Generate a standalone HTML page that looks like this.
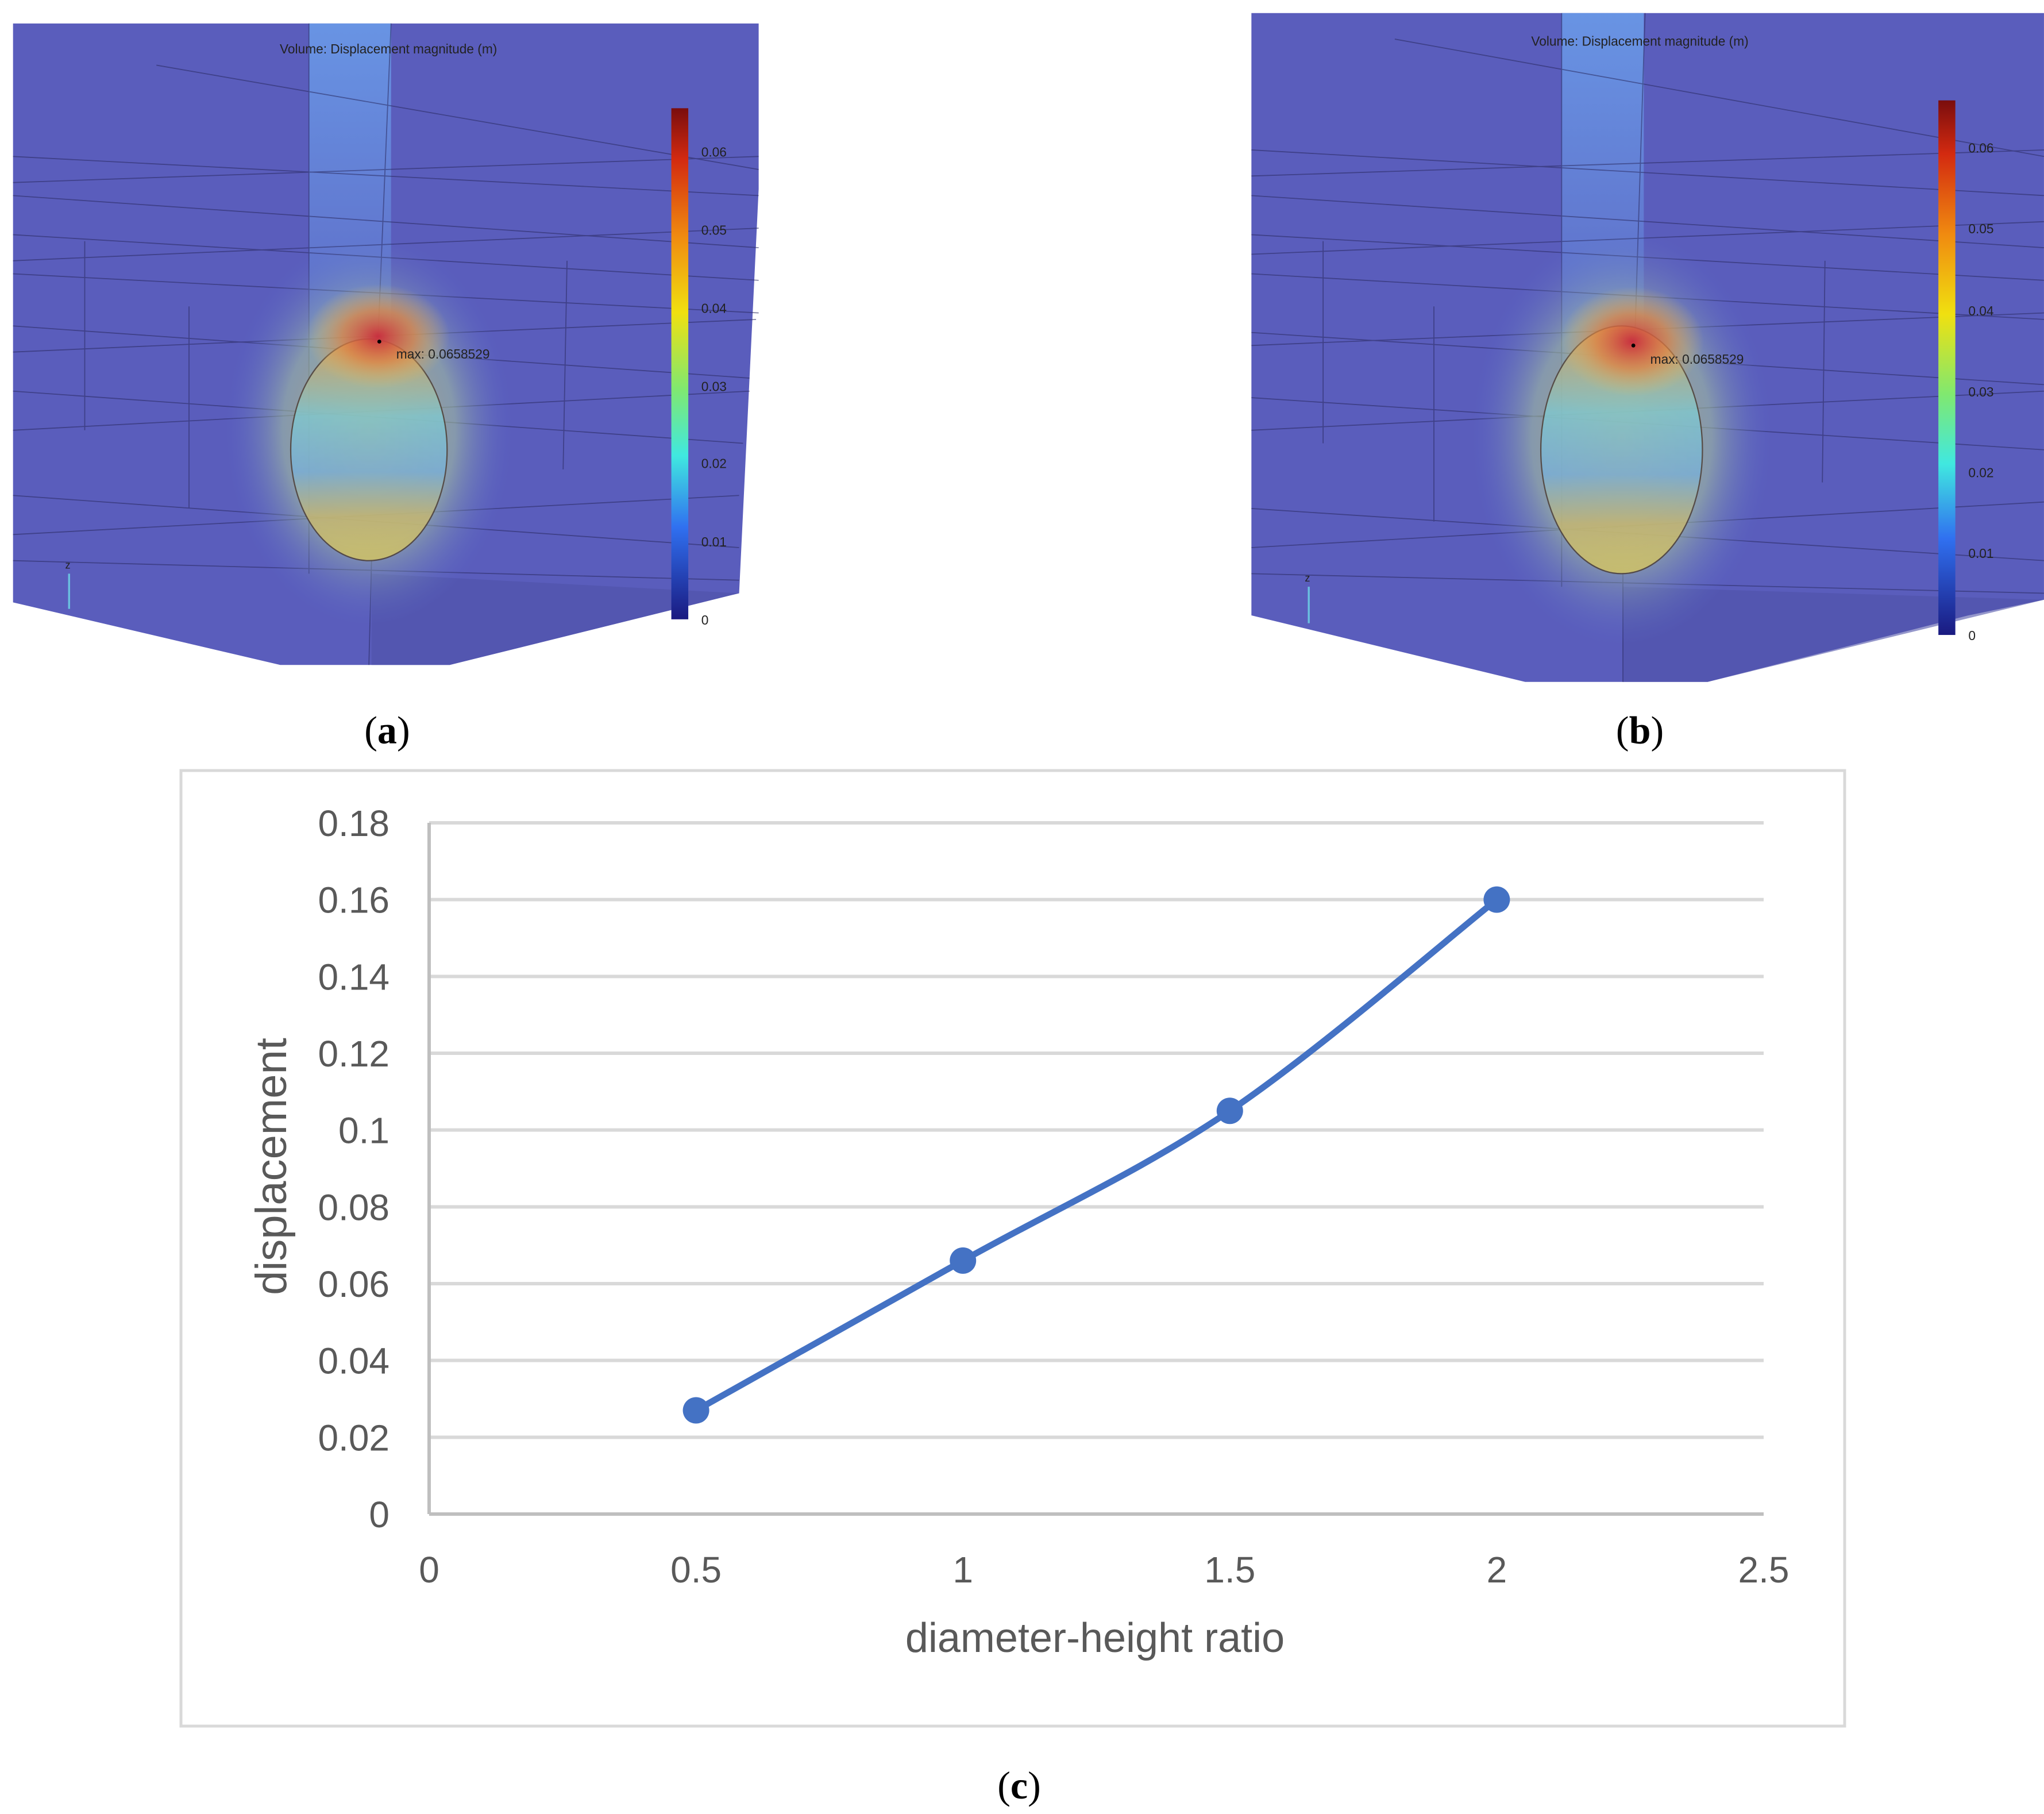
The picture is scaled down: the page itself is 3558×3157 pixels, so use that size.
<!DOCTYPE html>
<html><head><meta charset="utf-8"><style>
html,body{margin:0;padding:0;background:#fff;}
svg{display:block;}
</style></head><body>
<svg id="fig" width="3558" height="3157" viewBox="0 0 3558 3157" xmlns="http://www.w3.org/2000/svg">
<defs>
<linearGradient id="cbar" x1="0" y1="0" x2="0" y2="1">
<stop offset="0" stop-color="#7a0d0d"/><stop offset="0.1" stop-color="#d32a10"/><stop offset="0.25" stop-color="#f08a10"/><stop offset="0.4" stop-color="#f0e010"/><stop offset="0.55" stop-color="#80e870"/><stop offset="0.68" stop-color="#40e8e0"/><stop offset="0.82" stop-color="#3070f0"/><stop offset="1" stop-color="#1a1a80"/>
</linearGradient>
<linearGradient id="col" x1="0" y1="0" x2="0" y2="1">
<stop offset="0" stop-color="#6a9ae8" stop-opacity="0.9"/><stop offset="1" stop-color="#6a9ae8" stop-opacity="0"/>
</linearGradient>
<radialGradient id="glow" cx="0.5" cy="0.5" r="0.5">
<stop offset="0" stop-color="#d8c860"/><stop offset="0.6" stop-color="#a8c8a0" stop-opacity="0.8"/><stop offset="1" stop-color="#5a6fd0" stop-opacity="0"/>
</radialGradient>
<radialGradient id="hot" cx="0.5" cy="0.5" r="0.5">
<stop offset="0" stop-color="#c83040"/><stop offset="0.5" stop-color="#e08040" stop-opacity="0.7"/><stop offset="1" stop-color="#e0c060" stop-opacity="0"/>
</radialGradient>
<linearGradient id="ell" x1="0" y1="0" x2="0" y2="1">
<stop offset="0" stop-color="#e0a050"/><stop offset="0.35" stop-color="#80c8d0"/><stop offset="0.6" stop-color="#7ab0d8"/><stop offset="0.8" stop-color="#c8b870"/><stop offset="1" stop-color="#d8c860"/>
</linearGradient>
</defs>

<g transform="scale(2.2691)">
<!-- panel a -->
<g>
<polygon points="10,18 582,18 582,145 567,455 345,510 215,510 10,462" fill="#5a5dbc"/>
<polygon points="285,440 567,455 345,510 285,510" fill="#4f52a8" opacity="0.6"/>
<rect x="237" y="18" width="63" height="330" fill="url(#col)"/>
<g stroke="#2a2a60" stroke-width="0.8" opacity="0.55" fill="none">
<line x1="10" y1="120" x2="582" y2="150"/><line x1="10" y1="150" x2="582" y2="190"/><line x1="10" y1="180" x2="582" y2="215"/><line x1="10" y1="210" x2="582" y2="240"/><line x1="10" y1="250" x2="575" y2="290"/><line x1="10" y1="300" x2="570" y2="340"/><line x1="10" y1="380" x2="567" y2="420"/><line x1="10" y1="430" x2="567" y2="445"/>
<line x1="120" y1="50" x2="582" y2="130"/><line x1="10" y1="140" x2="582" y2="120"/><line x1="10" y1="200" x2="582" y2="175"/><line x1="10" y1="270" x2="580" y2="245"/><line x1="10" y1="330" x2="575" y2="300"/><line x1="10" y1="410" x2="567" y2="380"/>
<line x1="237" y1="18" x2="237" y2="440"/><line x1="300" y1="18" x2="290" y2="260"/><line x1="285" y1="430" x2="283" y2="510"/><line x1="65" y1="185" x2="65" y2="330"/><line x1="145" y1="235" x2="145" y2="390"/><line x1="435" y1="200" x2="432" y2="360"/>
</g>
<ellipse cx="283" cy="330" rx="110" ry="150" fill="url(#glow)" opacity="0.7"/>
<ellipse cx="283" cy="345" rx="60" ry="85" fill="url(#ell)" opacity="0.8" stroke="#4a3a30" stroke-width="1"/>
<ellipse cx="290" cy="258" rx="55" ry="40" fill="url(#hot)"/>
<circle cx="291" cy="262" r="1.5" fill="#000"/>
<text x="304" y="275" font-family="Liberation Sans, sans-serif" font-size="10" fill="#222">max: 0.0658529</text>
<text x="298" y="41" text-anchor="middle" font-family="Liberation Sans, sans-serif" font-size="10" fill="#222">Volume: Displacement magnitude (m)</text>
<rect x="515" y="83" width="13" height="392" fill="url(#cbar)"/>
<g font-family="Liberation Sans, sans-serif" font-size="10" fill="#222">
<text x="538" y="120">0.06</text><text x="538" y="180">0.05</text><text x="538" y="240">0.04</text><text x="538" y="300">0.03</text><text x="538" y="359">0.02</text><text x="538" y="419">0.01</text><text x="538" y="479">0</text>
</g>
<line x1="53" y1="467" x2="53" y2="440" stroke="#6ac0e0" stroke-width="1.5"/>
<text x="50" y="436" font-family="Liberation Sans, sans-serif" font-size="8" fill="#222">z</text>
</g>
<text x="297" y="570" text-anchor="middle" font-family="Liberation Serif, serif" font-size="30" fill="#000">(<tspan font-weight="bold">a</tspan>)</text>

<!-- panel b -->
<g>
<polygon points="960,10 1568,10 1568,460 1510,472 1310,523 1170,523 960,472" fill="#5a5dbc"/>
<polygon points="1245,450 1568,460 1310,523 1245,523" fill="#4f52a8" opacity="0.6"/>
<rect x="1198" y="10" width="63" height="340" fill="url(#col)"/>
<g stroke="#2a2a60" stroke-width="0.8" opacity="0.55" fill="none">
<line x1="960" y1="115" x2="1568" y2="150"/><line x1="960" y1="150" x2="1568" y2="190"/><line x1="960" y1="180" x2="1568" y2="215"/><line x1="960" y1="210" x2="1568" y2="245"/><line x1="960" y1="255" x2="1568" y2="295"/><line x1="960" y1="305" x2="1568" y2="345"/><line x1="960" y1="390" x2="1568" y2="430"/><line x1="960" y1="440" x2="1568" y2="455"/>
<line x1="1070" y1="30" x2="1568" y2="120"/><line x1="960" y1="135" x2="1568" y2="115"/><line x1="960" y1="195" x2="1568" y2="170"/><line x1="960" y1="265" x2="1568" y2="240"/><line x1="960" y1="330" x2="1568" y2="300"/><line x1="960" y1="420" x2="1568" y2="385"/>
<line x1="1198" y1="10" x2="1198" y2="450"/><line x1="1262" y1="10" x2="1254" y2="265"/><line x1="1245" y1="440" x2="1245" y2="523"/><line x1="1015" y1="185" x2="1015" y2="340"/><line x1="1100" y1="235" x2="1100" y2="400"/><line x1="1400" y1="200" x2="1398" y2="370"/>
</g>
<ellipse cx="1244" cy="335" rx="115" ry="160" fill="url(#glow)" opacity="0.7"/>
<ellipse cx="1244" cy="345" rx="62" ry="95" fill="url(#ell)" opacity="0.8" stroke="#4a3a30" stroke-width="1"/>
<ellipse cx="1252" cy="262" rx="55" ry="42" fill="url(#hot)"/>
<circle cx="1253" cy="265" r="1.5" fill="#000"/>
<text x="1266" y="279" font-family="Liberation Sans, sans-serif" font-size="10" fill="#222">max: 0.0658529</text>
<text x="1258" y="35" text-anchor="middle" font-family="Liberation Sans, sans-serif" font-size="10" fill="#222">Volume: Displacement magnitude (m)</text>
<rect x="1487" y="77" width="13" height="410" fill="url(#cbar)"/>
<g font-family="Liberation Sans, sans-serif" font-size="10" fill="#222">
<text x="1510" y="117">0.06</text><text x="1510" y="179">0.05</text><text x="1510" y="242">0.04</text><text x="1510" y="304">0.03</text><text x="1510" y="366">0.02</text><text x="1510" y="428">0.01</text><text x="1510" y="491">0</text>
</g>
<line x1="1004" y1="478" x2="1004" y2="450" stroke="#6ac0e0" stroke-width="1.5"/>
<text x="1001" y="446" font-family="Liberation Sans, sans-serif" font-size="8" fill="#222">z</text>
</g>
<text x="1258" y="570" text-anchor="middle" font-family="Liberation Serif, serif" font-size="30" fill="#000">(<tspan font-weight="bold">b</tspan>)</text>
</g>

<!-- chart c -->
<rect x="315" y="1341" width="2896" height="1663" fill="#fff" stroke="#d9d9d9" stroke-width="5"/>
<g id="grid"></g>
<g id="axes"></g>
<g id="series"></g>
<g id="ylabels" font-family="Liberation Sans, sans-serif" font-size="64" fill="#595959" text-anchor="end"></g>
<g id="xlabels" font-family="Liberation Sans, sans-serif" font-size="64" fill="#595959" text-anchor="middle"></g>
<text x="1906" y="2875" text-anchor="middle" font-family="Liberation Sans, sans-serif" font-size="72" fill="#595959">diameter-height ratio</text>
<text transform="translate(498,2030) rotate(-90)" text-anchor="middle" font-family="Liberation Sans, sans-serif" font-size="76" fill="#595959">displacement</text>
<text x="1774" y="3130" text-anchor="middle" font-family="Liberation Serif, serif" font-size="68" fill="#000">(<tspan font-weight="bold">c</tspan>)</text>
</svg>
<script>
const xValues = [0.5, 1, 1.5, 2];
const yValues = [0.027, 0.066, 0.105, 0.16];
const yTicks = [0, 0.02, 0.04, 0.06, 0.08, 0.1, 0.12, 0.14, 0.16, 0.18];
const yTickLabels = ["0","0.02","0.04","0.06","0.08","0.1","0.12","0.14","0.16","0.18"];
const xTicks = [0, 0.5, 1, 1.5, 2, 2.5];
const xTickLabels = ["0","0.5","1","1.5","2","2.5"];

const X0 = 747, X1 = 3070, Y0 = 2635, Y1 = 1432;
const sx = v => X0 + (v - 0) / 2.5 * (X1 - X0);
const sy = v => Y0 - (v - 0) / 0.18 * (Y0 - Y1);
const NS = "http://www.w3.org/2000/svg";
function mk(tag, attrs, parent) {
  const e = document.createElementNS(NS, tag);
  for (const k in attrs) e.setAttribute(k, attrs[k]);
  parent.appendChild(e);
  return e;
}
const grid = document.getElementById('grid');
const ylab = document.getElementById('ylabels');
yTicks.forEach((t, i) => {
  if (i > 0) {
    const l = mk('line', {x1: X0, x2: X1, y1: sy(t), y2: sy(t), stroke: '#d9d9d9', 'stroke-width': 6}, grid);
    
    
  }
  const tx = mk('text', {x: 678, y: sy(t) + 23}, ylab);
  tx.textContent = yTickLabels[i];
  
  
});
const axes = document.getElementById('axes');
const ya = mk('line', {x1: X0, x2: X0, y1: Y1, y2: Y0, stroke: '#bfbfbf', 'stroke-width': 6}, axes);


const xa = mk('line', {x1: X0, x2: X1, y1: Y0, y2: Y0, stroke: '#bfbfbf', 'stroke-width': 6}, axes);


const xlab = document.getElementById('xlabels');
xTicks.forEach((t, i) => {
  const tx = mk('text', {x: sx(t), y: 2754}, xlab);
  tx.textContent = xTickLabels[i];
  
  
});
const pts = xValues.map((x, i) => [sx(x), sy(yValues[i])]);
let d = `M${pts[0][0]},${pts[0][1]}`;
for (let i = 0; i < pts.length - 1; i++) {
  const p0 = pts[i - 1] || pts[i], p1 = pts[i], p2 = pts[i + 1], p3 = pts[i + 2] || p2;
  const t = 6;
  const c1 = [p1[0] + (p2[0] - p0[0]) / t, p1[1] + (p2[1] - p0[1]) / t];
  const c2 = [p2[0] - (p3[0] - p1[0]) / t, p2[1] - (p3[1] - p1[1]) / t];
  d += ` C${c1[0]},${c1[1]} ${c2[0]},${c2[1]} ${p2[0]},${p2[1]}`;
}
const series = document.getElementById('series');
const path = mk('path', {d: d, fill: 'none', stroke: '#4472c4', 'stroke-width': 11, 'stroke-linecap': 'round'}, series);


pts.forEach(p => {
  const c = mk('circle', {cx: p[0], cy: p[1], r: 23, fill: '#4472c4'}, series);
  
  
});
</script>
</body></html>
